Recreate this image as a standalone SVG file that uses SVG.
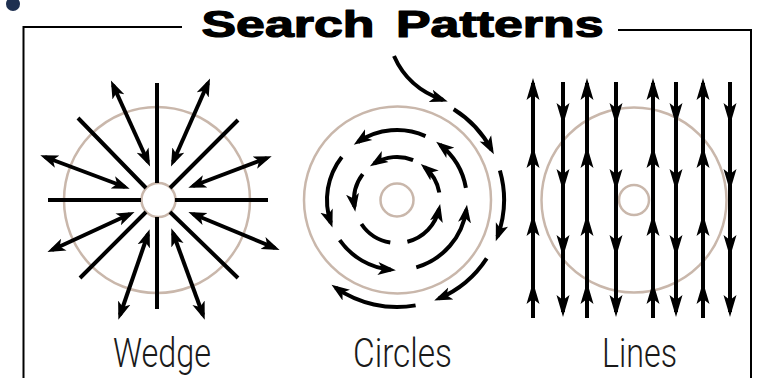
<svg xmlns="http://www.w3.org/2000/svg" width="760" height="378" viewBox="0 0 760 378">
<style>
.ring{fill:none;stroke:#c9b7ab;stroke-width:2.5}
.ln{fill:none;stroke:#000;stroke-width:4}
.dbl{marker-start:url(#ah);marker-end:url(#ah)}
.one{marker-end:url(#ah)}
.lin{marker-mid:url(#ahl);marker-end:url(#ahl)}
.frame{fill:none;stroke:#000;stroke-width:2}
.title{font-family:"Liberation Sans",Arial,sans-serif;font-weight:bold;font-size:36px;fill:#000;stroke:#000;stroke-width:1.2px;stroke-linejoin:round}
.lbl{font-family:Roboto,"Liberation Sans",Arial,sans-serif;font-weight:300;font-size:40px;fill:#1a1a1a}
</style>
<defs>
<marker id="ah" markerUnits="userSpaceOnUse" markerWidth="19" markerHeight="14" refX="13" refY="7" orient="auto-start-reverse" viewBox="0 0 19 14">
<path d="M0,0.5 L18,7 L0,13.5 L4.5,7 Z" fill="#000"/>
</marker>
<marker id="ahl" markerUnits="userSpaceOnUse" markerWidth="22" markerHeight="14" refX="17" refY="7" orient="auto" viewBox="0 0 22 14">
<path d="M0,0.5 L22,7 L0,13.5 L5,7 Z" fill="#000"/>
</marker>
</defs>
<rect width="760" height="378" fill="#fff"/>
<g id="frame">
<circle cx="13" cy="4" r="7" fill="#1e3050"/>
<polyline class="frame" points="182,27 23.5,27 23.5,378"/>
<polyline class="frame" points="618,30 751,30 751,378"/>
</g>
<g id="title">
<text class="title" x="201.5" y="37.3" textLength="402" lengthAdjust="spacingAndGlyphs" style="word-spacing:5px">Search Patterns</text>
</g>
<g id="wedge">
<circle class="ring" cx="157" cy="200" r="93"/>
<circle class="ring" cx="158.5" cy="200" r="17" fill="#fff"/>
<text class="lbl" x="113" y="367" textLength="98" lengthAdjust="spacingAndGlyphs">Wedge</text>
</g>
<g id="circles">
<circle class="ring" cx="397.5" cy="200" r="93.5"/>
<circle class="ring" cx="397" cy="200" r="16.5"/>
<text class="lbl" x="353" y="367" textLength="99" lengthAdjust="spacingAndGlyphs">Circles</text>
</g>
<g id="lines">
<circle class="ring" cx="634" cy="200" r="92.5"/>
<circle class="ring" cx="634" cy="200" r="15"/>
<text class="lbl" x="602" y="367" textLength="75" lengthAdjust="spacingAndGlyphs">Lines</text>
</g>
<g id="connectors">
<path class="ln" d="M48,200 H141 M175,200 H268 M157,83 V183 M157,217 V309 M78,118 L146,188 M170,212 L238,278 M238,120 L170,188 M146,212 L80,278"/>
<path class="ln dbl" d="M113,85 L148,162"/>
<path class="ln dbl" d="M208,83 L173,162"/>
<path class="ln dbl" d="M45,157 L125,187"/>
<path class="ln dbl" d="M267,158 L193,186"/>
<path class="ln dbl" d="M52,250 L130,214"/>
<path class="ln dbl" d="M275,248 L193,214"/>
<path class="ln dbl" d="M120,315 L148,234"/>
<path class="ln dbl" d="M203,315 L173,233"/>
<path class="ln one" d="M439.3,192.5 A43,43 0 0 0 424.6,167.1"/>
<path class="ln one" d="M413.1,160.1 A43,43 0 0 0 374.2,163.5"/>
<path class="ln one" d="M362.7,174.1 A43,43 0 0 0 354.5,206.7"/>
<path class="ln" d="M361.4,224 A43,43 0 0 0 390.3,242.5"/>
<path class="ln one" d="M407.4,241.7 A43,43 0 0 0 439.1,208.9"/>
<path class="ln one" d="M425.5,136.1 A70,70 0 0 0 357.9,142"/>
<path class="ln one" d="M341.8,156.9 A70,70 0 0 0 330.8,222.8"/>
<path class="ln one" d="M339.7,240.2 A70,70 0 0 0 390.9,269.7"/>
<path class="ln one" d="M416.3,267.3 A70,70 0 0 0 466.3,209.7"/>
<path class="ln one" d="M465.9,187.8 A70,70 0 0 0 440.1,144.8"/>
<path class="ln one" d="M394,56 Q408,88 443,100"/>
<path class="ln one" d="M453.7,109.3 A107,107 0 0 1 491.5,149.8"/>
<path class="ln one" d="M499.9,170.5 A107,107 0 0 1 497.5,236.6"/>
<path class="ln one" d="M486.7,258.3 A107,107 0 0 1 438.8,298.5"/>
<path class="ln one" d="M415.6,305.4 A107,107 0 0 1 335.6,287.7"/>
<path class="ln lin" d="M533,318 V287 V219 V151 V83"/>
<path class="ln lin" d="M563,82 V120 V186 V252 V312"/>
<path class="ln lin" d="M587,318 V287 V219 V151 V83"/>
<path class="ln lin" d="M616,82 V120 V186 V252 V312"/>
<path class="ln lin" d="M653,318 V287 V219 V151 V83"/>
<path class="ln lin" d="M676,82 V120 V186 V252 V312"/>
<path class="ln lin" d="M703,318 V287 V219 V151 V83"/>
<path class="ln lin" d="M730,82 V120 V186 V252 V312"/>
</g>
</svg>
